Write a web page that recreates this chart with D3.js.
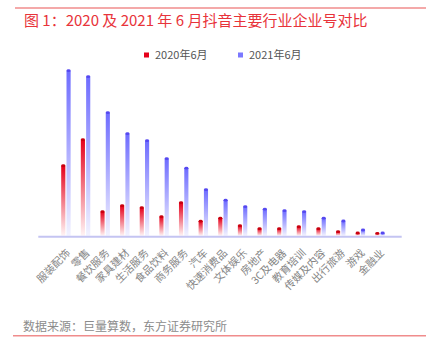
<!DOCTYPE html>
<html><head><meta charset="utf-8">
<script src="https://cdn.jsdelivr.net/npm/d3@7"></script>
<style>
html,body{margin:0;padding:0;background:#fff;}
svg{display:block;font-family:"Noto Sans CJK SC","Noto Sans",sans-serif;}
</style></head>
<body>
<svg id="c" width="431" height="355"></svg>
<script>
const categories = ["服装配饰","零售","餐饮服务","家具建材","生活服务","食品饮料","商务服务","汽车","快速消费品","文体娱乐","房地产","3C及电器","教育培训","传媒及内容","出行旅游","游戏","金融业"];
const seriesNames = ["2020年6月","2021年6月"];
const values2020 = [70,96,24,30,28,19,33,14.5,17.5,10,7,7,9,7,4,2.7,2.4];
const values2021 = [165,159,123,102,95,77,67.5,46,35.5,29,26.5,25,24,17.5,14.7,5.7,2.7];

const svg = d3.select("#c");
const baseY = 235.7;

// frame lines
svg.append("line").attr("x1",15).attr("x2",426).attr("y1",8).attr("y2",8)
  .attr("stroke","#f08c8c").attr("stroke-width",1.5);
svg.append("line").attr("x1",13).attr("x2",426).attr("y1",335.8).attr("y2",335.8)
  .attr("stroke","#f08c8c").attr("stroke-width",1.5);

// title
svg.append("text").attr("x",24).attr("y",26).attr("fill","#e8333a")
  .attr("font-size",15).attr("font-weight",400)
  .text("图 1：2020 及 2021 年 6 月抖音主要行业企业号对比");

// footer
svg.append("text").attr("x",23).attr("y",331).attr("fill","#8c8c8c")
  .attr("font-size",12).text("数据来源：巨量算数，东方证券研究所");

// gradients
const defs = svg.append("defs");
const cols = [{id:"gr", top:"#e6001a", bot:"#fff4f5", cap:"#c8000e"},
              {id:"gb", top:"#6e6cff", bot:"#f2f2ff", cap:"#5548f0"}];
cols.forEach(c=>{
  const g = defs.append("linearGradient").attr("id",c.id).attr("x1",0).attr("y1",0).attr("x2",0).attr("y2",1);
  g.append("stop").attr("offset","0%").attr("stop-color",c.top);
  g.append("stop").attr("offset","100%").attr("stop-color",c.bot);
});

const x = d3.scaleBand().domain(categories).range([56.1, 389.8]).paddingInner(0).paddingOuter(0);
const xs = d3.scaleBand().domain([0,1]).range([0, x.bandwidth()]).paddingInner(0.22).paddingOuter(0.96);
const y = d3.scaleLinear().domain([0,170]).range([baseY, baseY-170]);

const data = categories.map((c,i)=>({c, v:[values2020[i], values2021[i]]}));
const groups = svg.append("g").selectAll("g").data(data).join("g")
  .attr("transform", d=>`translate(${x(d.c)},0)`);

[0,1].forEach(s=>{
  const bw = xs.bandwidth();
  groups.append("rect")
    .attr("x", xs(s)).attr("width", bw)
    .attr("y", d=>y(d.v[s])).attr("height", d=>baseY - y(d.v[s]))
    .attr("fill", `url(#${cols[s].id})`);
  groups.append("ellipse")
    .attr("cx", xs(s)+bw/2).attr("cy", d=>y(d.v[s]))
    .attr("rx", bw/2).attr("ry", 1.4)
    .attr("fill", cols[s].cap);
});

// axis line
svg.append("line").attr("x1",38.3).attr("x2",401.7).attr("y1",baseY+1).attr("y2",baseY+1)
  .attr("stroke","#c4c4f2").attr("stroke-width",2);

// axis labels
const xAxis = d3.axisBottom(x).tickSize(0).tickPadding(0);
const ag = svg.append("g").attr("transform",`translate(0,${baseY})`).call(xAxis);
ag.select(".domain").remove();
ag.selectAll("text")
  .attr("font-size",10.5).attr("fill","#858585")
  .attr("font-family","'Noto Sans CJK SC',sans-serif")
  .attr("text-anchor","end")
  .attr("dy",null).attr("y",0)
  .attr("transform","translate(5,18) rotate(-45)");

// legend
const leg = svg.append("g");
const lx = [144, 238];
seriesNames.forEach((n,i)=>{
  leg.append("rect").attr("x",lx[i]).attr("y",52.5).attr("width",5).attr("height",5)
    .attr("fill", i===0?"#e6001a":"#7b78ff");
  leg.append("text").attr("x",lx[i]+11).attr("y",59).attr("font-size",11)
    .attr("fill","#555").text(n);
});
</script>
</body></html>
